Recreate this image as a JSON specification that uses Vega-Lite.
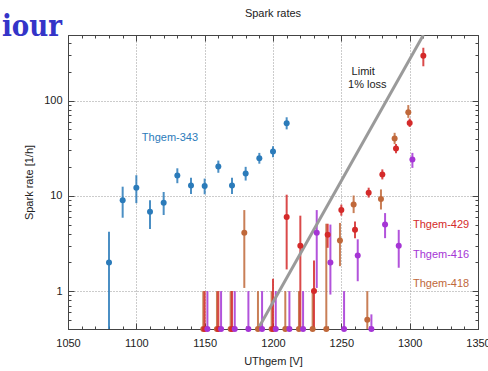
{
  "$schema": "https://vega.github.io/schema/vega-lite/v6.json",
  "width": 410,
  "height": 294,
  "autosize": {"type": "none"},
  "padding": {"left": 68, "top": 35, "right": 10, "bottom": 42},
  "background": "white",
  "title": {"text": "Spark rates", "fontSize": 11, "font": "Liberation Sans", "fontWeight": "normal", "color": "#222", "offset": -6},
  "config": {"view": {"stroke": "#444", "strokeWidth": 1}, "font": "Liberation Sans"},
  "datasets": {
    "meas": [
      {"s": "Thgem-418", "V": 1149, "rate": 0.4, "lo": 0.4, "hi": 1.0},
      {"s": "Thgem-418", "V": 1159, "rate": 0.4, "lo": 0.4, "hi": 1.0},
      {"s": "Thgem-418", "V": 1169, "rate": 0.4, "lo": 0.4, "hi": 1.0},
      {"s": "Thgem-418", "V": 1179, "rate": 4.1, "lo": 1.08, "hi": 7.1},
      {"s": "Thgem-418", "V": 1189, "rate": 0.4, "lo": 0.4, "hi": 1.0},
      {"s": "Thgem-418", "V": 1199, "rate": 0.4, "lo": 0.4, "hi": 1.0},
      {"s": "Thgem-418", "V": 1209, "rate": 0.4, "lo": 0.4, "hi": 1.0},
      {"s": "Thgem-418", "V": 1219, "rate": 0.4, "lo": 0.4, "hi": 1.0},
      {"s": "Thgem-418", "V": 1229, "rate": 0.4, "lo": 0.4, "hi": 1.0},
      {"s": "Thgem-418", "V": 1239, "rate": 0.4, "lo": 0.4, "hi": 5.1},
      {"s": "Thgem-418", "V": 1249, "rate": 3.4, "lo": 1.83, "hi": 5.2},
      {"s": "Thgem-418", "V": 1259, "rate": 8.1, "lo": 6.6, "hi": 10.1},
      {"s": "Thgem-418", "V": 1269, "rate": 0.5, "lo": 0.4, "hi": 1.0},
      {"s": "Thgem-418", "V": 1279, "rate": 9.3, "lo": 7.2, "hi": 11.7},
      {"s": "Thgem-418", "V": 1289, "rate": 40, "lo": 35, "hi": 46},
      {"s": "Thgem-418", "V": 1299, "rate": 75.5, "lo": 66, "hi": 90},
      {"s": "Thgem-429", "V": 1150, "rate": 0.4, "lo": 0.4, "hi": 1.0},
      {"s": "Thgem-429", "V": 1160, "rate": 0.4, "lo": 0.4, "hi": 1.0},
      {"s": "Thgem-429", "V": 1170, "rate": 0.4, "lo": 0.4, "hi": 1.0},
      {"s": "Thgem-429", "V": 1200, "rate": 0.4, "lo": 0.4, "hi": 1.35},
      {"s": "Thgem-429", "V": 1210, "rate": 6.0, "lo": 1.69, "hi": 10.3},
      {"s": "Thgem-429", "V": 1220, "rate": 3.0, "lo": 0.4, "hi": 6.2},
      {"s": "Thgem-429", "V": 1230, "rate": 1.0, "lo": 0.4, "hi": 2.1},
      {"s": "Thgem-429", "V": 1240, "rate": 3.9, "lo": 2.85, "hi": 5.1},
      {"s": "Thgem-429", "V": 1250, "rate": 7.1, "lo": 6.2, "hi": 8.1},
      {"s": "Thgem-429", "V": 1260, "rate": 4.4, "lo": 3.6, "hi": 5.4},
      {"s": "Thgem-429", "V": 1270, "rate": 10.8, "lo": 9.6, "hi": 12.2},
      {"s": "Thgem-429", "V": 1280, "rate": 16.8, "lo": 14.9, "hi": 19},
      {"s": "Thgem-429", "V": 1290, "rate": 31.4, "lo": 28, "hi": 35},
      {"s": "Thgem-429", "V": 1300, "rate": 58.5, "lo": 53, "hi": 65},
      {"s": "Thgem-429", "V": 1310, "rate": 297, "lo": 230, "hi": 360},
      {"s": "Thgem-416", "V": 1152, "rate": 0.4, "lo": 0.4, "hi": 1.0},
      {"s": "Thgem-416", "V": 1162, "rate": 0.4, "lo": 0.4, "hi": 1.0},
      {"s": "Thgem-416", "V": 1172, "rate": 0.4, "lo": 0.4, "hi": 1.0},
      {"s": "Thgem-416", "V": 1182, "rate": 0.4, "lo": 0.4, "hi": 1.0},
      {"s": "Thgem-416", "V": 1192, "rate": 0.4, "lo": 0.4, "hi": 1.0},
      {"s": "Thgem-416", "V": 1202, "rate": 0.4, "lo": 0.4, "hi": 1.0},
      {"s": "Thgem-416", "V": 1212, "rate": 0.4, "lo": 0.4, "hi": 1.0},
      {"s": "Thgem-416", "V": 1222, "rate": 0.4, "lo": 0.4, "hi": 1.0},
      {"s": "Thgem-416", "V": 1232, "rate": 4.1, "lo": 1.08, "hi": 7.1},
      {"s": "Thgem-416", "V": 1242, "rate": 2.0, "lo": 0.92, "hi": 5.0},
      {"s": "Thgem-416", "V": 1252, "rate": 0.4, "lo": 0.4, "hi": 1.0},
      {"s": "Thgem-416", "V": 1262, "rate": 2.37, "lo": 1.27, "hi": 3.5},
      {"s": "Thgem-416", "V": 1272, "rate": 0.4, "lo": 0.4, "hi": 0.57},
      {"s": "Thgem-416", "V": 1282, "rate": 5.0, "lo": 3.6, "hi": 6.6},
      {"s": "Thgem-416", "V": 1292, "rate": 3.0, "lo": 1.76, "hi": 4.4},
      {"s": "Thgem-416", "V": 1302, "rate": 24.1, "lo": 19.7, "hi": 28.3},
      {"s": "Thgem-343", "V": 1080, "rate": 2.0, "lo": 0.4, "hi": 4.2},
      {"s": "Thgem-343", "V": 1090, "rate": 9.0, "lo": 5.9, "hi": 12.5},
      {"s": "Thgem-343", "V": 1100, "rate": 12.2, "lo": 8.4, "hi": 16.5},
      {"s": "Thgem-343", "V": 1110, "rate": 6.8, "lo": 4.5, "hi": 9.0},
      {"s": "Thgem-343", "V": 1120, "rate": 8.5, "lo": 6.3, "hi": 11.0},
      {"s": "Thgem-343", "V": 1130, "rate": 16.4, "lo": 13.6, "hi": 19.5},
      {"s": "Thgem-343", "V": 1140, "rate": 12.9, "lo": 10.5, "hi": 15.5},
      {"s": "Thgem-343", "V": 1150, "rate": 12.7, "lo": 10.4, "hi": 15.2},
      {"s": "Thgem-343", "V": 1160, "rate": 20.4, "lo": 17.5, "hi": 23.5},
      {"s": "Thgem-343", "V": 1170, "rate": 12.9, "lo": 10.5, "hi": 15.5},
      {"s": "Thgem-343", "V": 1180, "rate": 17.2, "lo": 14.5, "hi": 20.2},
      {"s": "Thgem-343", "V": 1190, "rate": 24.9, "lo": 21.8, "hi": 28.3},
      {"s": "Thgem-343", "V": 1200, "rate": 29.2, "lo": 25.5, "hi": 33.3},
      {"s": "Thgem-343", "V": 1210, "rate": 58, "lo": 50, "hi": 67}
    ],
    "limit": [{"V": 1189, "r": 0.4}, {"V": 1310, "r": 490}],
    "labels": [
      {"V": 1124.6, "r": 41, "t": "Thgem-343", "s": "Thgem-343"},
      {"V": 1323, "r": 4.9, "t": "Thgem-429", "s": "Thgem-429"},
      {"V": 1323, "r": 2.42, "t": "Thgem-416", "s": "Thgem-416"},
      {"V": 1323, "r": 1.2, "t": "Thgem-418", "s": "Thgem-418"}
    ],
    "notes": [{"V": 1266, "r": 199, "t": "Limit"}, {"V": 1269, "r": 147, "t": "1% loss"}],
    "slide": [{"V": 1045.6, "r": 482, "t": "iour"}]
  },
  "resolve": {"axis": {"x": "independent", "y": "independent"}},
  "layer": [
    {
      "data": {"name": "meas"},
      "mark": {"type": "rule", "strokeWidth": 2, "clip": true, "opacity": 0.85},
      "encoding": {
        "x": {"field": "V", "type": "quantitative",
          "scale": {"domain": [1050, 1350], "nice": false, "zero": false},
          "axis": {"orient": "bottom", "values": [1050,1060,1070,1080,1090,1100,1110,1120,1130,1140,1150,1160,1170,1180,1190,1200,1210,1220,1230,1240,1250,1260,1270,1280,1290,1300,1310,1320,1330,1340,1350],
            "format": "d", "labelExpr": "datum.value % 50 === 0 ? datum.label : ''",
            "labelFontSize": 11, "labelColor": "#222", "labelPadding": 14, "labelFlush": false,
            "tickSize": {"condition": {"test": "datum.value % 50 === 0", "value": -6}, "value": -3},
            "tickColor": "#444", "domainColor": "#444",
            "grid": true, "gridDash": [1, 2], "gridColor": "#999",
            "gridOpacity": {"condition": {"test": "datum.value % 50 === 0", "value": 1}, "value": 0},
            "title": "UThgem [V]", "titleFontSize": 11, "titleFontWeight": "normal", "titleColor": "#222", "titlePadding": 7}},
        "y": {"field": "lo", "type": "quantitative",
          "scale": {"type": "log", "domain": [0.4, 490], "nice": false},
          "axis": {"orient": "left", "values": [0.4,0.5,0.6,0.7,0.8,0.9,1,2,3,4,5,6,7,8,9,10,20,30,40,50,60,70,80,90,100,200,300,400],
            "format": "~g", "labelExpr": "(datum.value == 1 || datum.value == 10 || datum.value == 100) ? datum.label : ''",
            "labelFontSize": 11, "labelColor": "#222", "labelPadding": 12,
            "tickSize": {"condition": {"test": "datum.value == 1 || datum.value == 10 || datum.value == 100", "value": -6}, "value": -3},
            "tickColor": "#444", "domainColor": "#444",
            "grid": true, "gridDash": [1, 2], "gridColor": "#999",
            "gridOpacity": {"condition": {"test": "datum.value == 1 || datum.value == 10 || datum.value == 100", "value": 1}, "value": 0},
            "title": "Spark rate [1/h]", "titleFontSize": 11, "titleFontWeight": "normal", "titleColor": "#222", "titlePadding": 9}},
        "y2": {"field": "hi"},
        "color": {"field": "s", "type": "nominal",
          "scale": {"domain": ["Thgem-343", "Thgem-429", "Thgem-416", "Thgem-418"], "range": ["#2b7bba", "#d42a2a", "#a535d5", "#c0683a"]},
          "legend": null}
      }
    },
    {
      "data": {"name": "limit"},
      "mark": {"type": "line", "color": "#9a9a9a", "strokeWidth": 3, "clip": true},
      "encoding": {
        "x": {"field": "V", "type": "quantitative", "axis": null},
        "y": {"field": "r", "type": "quantitative", "axis": null}
      }
    },
    {
      "data": {"name": "meas"},
      "mark": {"type": "circle", "size": 36, "opacity": 1},
      "encoding": {
        "x": {"field": "V", "type": "quantitative",
          "axis": {"orient": "top", "values": [1050,1060,1070,1080,1090,1100,1110,1120,1130,1140,1150,1160,1170,1180,1190,1200,1210,1220,1230,1240,1250,1260,1270,1280,1290,1300,1310,1320,1330,1340,1350],
            "labels": false, "title": null, "grid": false,
            "tickSize": {"condition": {"test": "datum.value % 50 === 0", "value": -6}, "value": -3},
            "tickColor": "#444", "domainColor": "#444"}},
        "y": {"field": "rate", "type": "quantitative",
          "axis": {"orient": "right", "values": [0.4,0.5,0.6,0.7,0.8,0.9,1,2,3,4,5,6,7,8,9,10,20,30,40,50,60,70,80,90,100,200,300,400],
            "labels": false, "title": null, "grid": false,
            "tickSize": {"condition": {"test": "datum.value == 1 || datum.value == 10 || datum.value == 100", "value": -6}, "value": -3},
            "tickColor": "#444", "domainColor": "#444"}},
        "color": {"field": "s", "type": "nominal", "legend": null}
      }
    },
    {
      "data": {"name": "labels"},
      "mark": {"type": "text", "fontSize": 11, "font": "Liberation Sans", "align": "center", "baseline": "middle"},
      "encoding": {
        "x": {"field": "V", "type": "quantitative", "axis": null},
        "y": {"field": "r", "type": "quantitative", "axis": null},
        "text": {"field": "t"},
        "color": {"field": "s", "type": "nominal", "legend": null}
      }
    },
    {
      "data": {"name": "notes"},
      "mark": {"type": "text", "fontSize": 11, "font": "Liberation Sans", "align": "center", "baseline": "middle", "color": "#222"},
      "encoding": {
        "x": {"field": "V", "type": "quantitative", "axis": null},
        "y": {"field": "r", "type": "quantitative", "axis": null},
        "text": {"field": "t"}
      }
    },
    {
      "data": {"name": "slide"},
      "mark": {"type": "text", "fontSize": 29, "font": "DejaVu Serif Condensed, DejaVu Serif", "fontWeight": "bold", "align": "right", "baseline": "alphabetic", "color": "#3434c8"},
      "encoding": {
        "x": {"field": "V", "type": "quantitative", "axis": null},
        "y": {"field": "r", "type": "quantitative", "axis": null},
        "text": {"field": "t"}
      }
    }
  ]
}
